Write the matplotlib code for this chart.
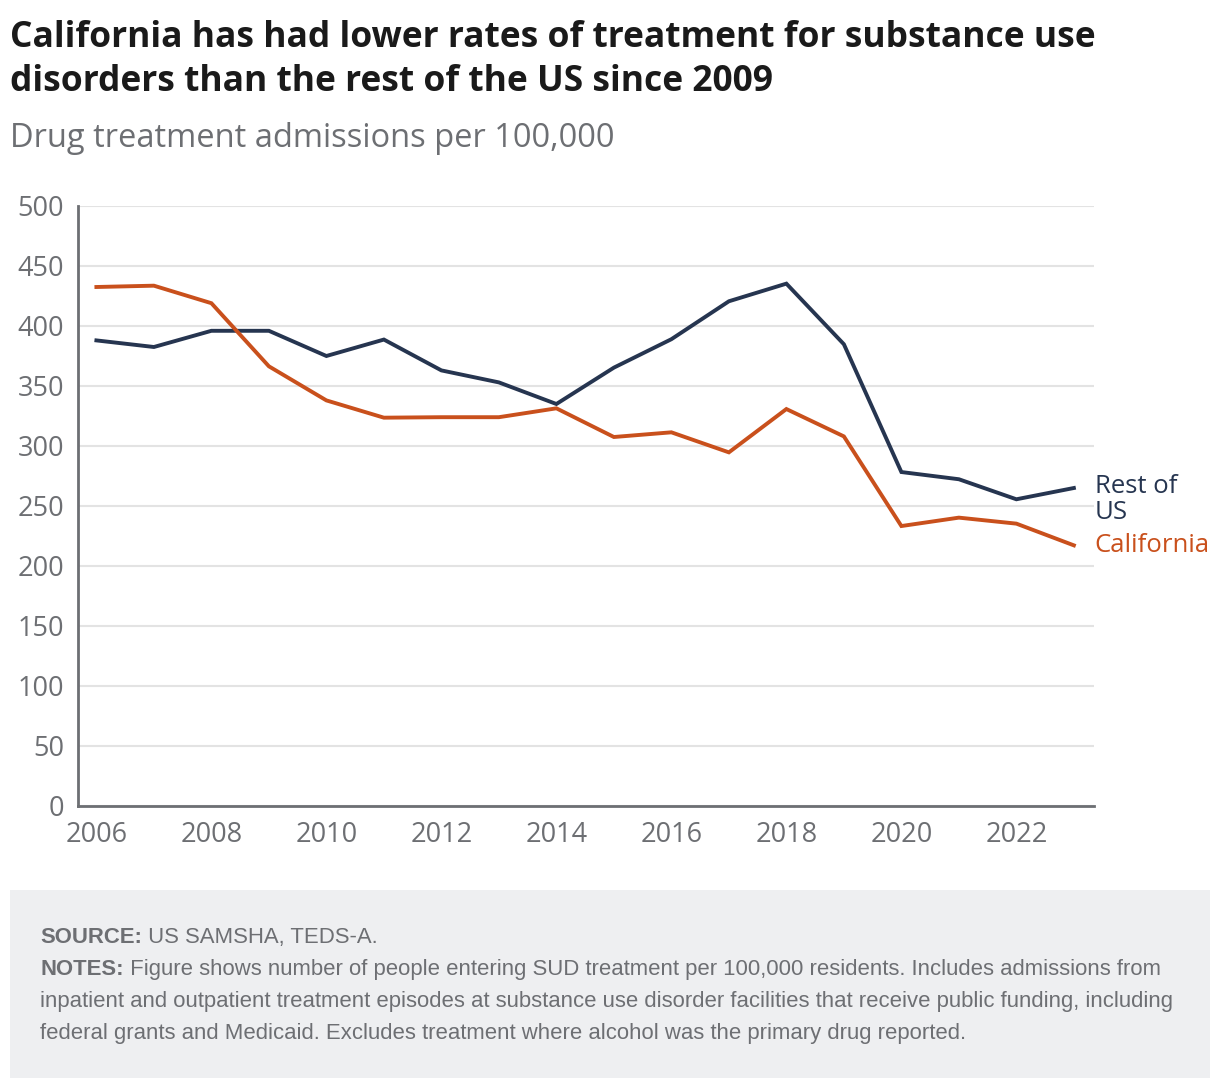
import matplotlib.pyplot as plt
from matplotlib.patches import Rectangle

years = list(range(2006, 2024))
rest_of_us = [388, 382.5, 396, 396, 375, 388.7, 363, 353, 335, 365.3, 389, 420.6,
              435.3, 384.8, 278.3, 272.3, 255.6, 265]
california = [432.5, 433.6, 419, 366.4, 338, 323.6, 324, 324, 331.4, 307.5, 311.4,
              294.7, 330.8, 308, 233.3, 240.3, 235.3, 217.2]
y_ticks = [0, 50, 100, 150, 200, 250, 300, 350, 400, 450, 500]
x_ticks = [2006, 2008, 2010, 2012, 2014, 2016, 2018, 2020, 2022]

NAVY = '#263550'
ORANGE = '#C9501C'
GREY = '#6d6f73'

plt.rcParams['font.family'] = ['Open Sans', 'DejaVu Sans']

W, H = 1220, 1088
fig = plt.figure(figsize=(W / 100, H / 100), dpi=100)

# axes placed in pixel terms
left, right, top, bottom = 78, 1094, 206, 806
ax = fig.add_axes([left / W, 1 - bottom / H, (right - left) / W, (bottom - top) / H])

ax.plot(years, rest_of_us, color=NAVY, lw=2.8, solid_joinstyle='miter', zorder=3)
ax.plot(years, california, color=ORANGE, lw=2.8, solid_joinstyle='miter', zorder=3)

ax.set_ylim(0, 500)
ax.set_xlim(2005.68, 2023.35)
ax.set_yticks(y_ticks)
ax.set_xticks(x_ticks)
ax.set_xticklabels([str(x) for x in x_ticks])
ax.tick_params(axis='both', length=0, labelsize=19.5, colors=GREY)
ax.tick_params(axis='y', pad=10)
ax.tick_params(axis='x', pad=11)
ax.grid(axis='y', color='#e3e3e3', lw=1.5, zorder=0)
ax.set_axisbelow(True)
for s in ['top', 'right']:
    ax.spines[s].set_visible(False)
for s in ['left', 'bottom']:
    ax.spines[s].set_color(GREY)
    ax.spines[s].set_linewidth(2)

# end labels
ax.annotate('Rest of\nUS', xy=(years[-1], rest_of_us[-1]), xytext=(15, -8),
            textcoords='offset points', color=NAVY, fontsize=18.5, va='center',
            ha='left', linespacing=1.05, annotation_clip=False)
ax.annotate('California', xy=(years[-1], california[-1]), xytext=(15, 0),
            textcoords='offset points', color=ORANGE, fontsize=18.5, va='center',
            ha='left', annotation_clip=False)

# titles
fig.text(10 / W, 1 - 47 / H, 'California has had lower rates of treatment for substance use',
         fontsize=25.5, fontweight='bold', color='#1a1a1a', ha='left', va='baseline')
fig.text(10 / W, 1 - 91 / H, 'disorders than the rest of the US since 2009',
         fontsize=25.5, fontweight='bold', color='#1a1a1a', ha='left', va='baseline')
fig.text(10 / W, 1 - 147 / H, 'Drug treatment admissions per 100,000',
         fontsize=23.5, color=GREY, ha='left', va='baseline')

# notes box
fig.patches.append(Rectangle((10 / W, 1 - 1078 / H), 1200 / W, 188 / H,
                             transform=fig.transFigure, facecolor='#eeeff1',
                             edgecolor='none', zorder=0))
note_font = ['Liberation Sans', 'DejaVu Sans']
lines = [
    ('SOURCE:', ' US SAMSHA, TEDS-A.'),
    ('NOTES:', ' Figure shows number of people entering SUD treatment per 100,000 residents. Includes admissions from'),
    ('', 'inpatient and outpatient treatment episodes at substance use disorder facilities that receive public funding, including'),
    ('', 'federal grants and Medicaid. Excludes treatment where alcohol was the primary drug reported.'),
]
fig.canvas.draw()
renderer = fig.canvas.get_renderer()
y0 = 943
for bold, rest in lines:
    x = 40
    if bold:
        t = fig.text(x / W, 1 - y0 / H, bold, fontsize=15.9, fontweight='bold', color=GREY,
                     family=note_font, ha='left', va='baseline')
        x += t.get_window_extent(renderer).width
    fig.text(x / W, 1 - y0 / H, rest, fontsize=15.9, color=GREY, family=note_font,
             ha='left', va='baseline')
    y0 += 32

fig.savefig('out.png', dpi=100)
